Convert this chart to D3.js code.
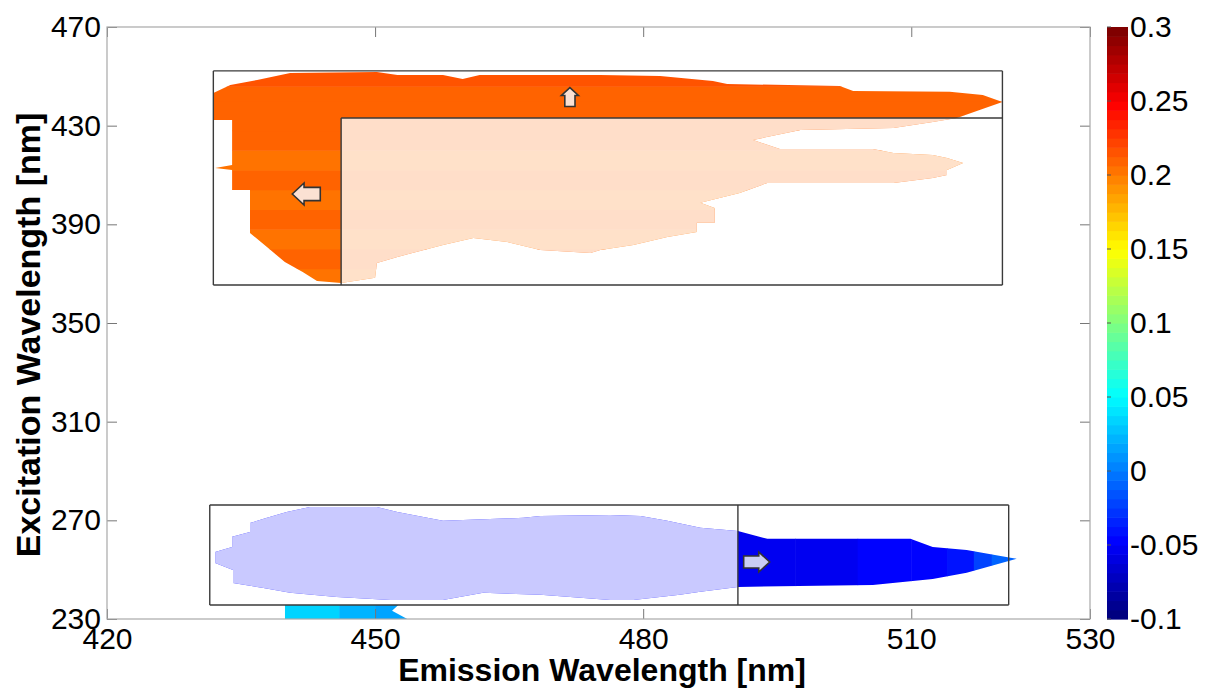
<!DOCTYPE html>
<html>
<head>
<meta charset="utf-8">
<script src="https://cdn.jsdelivr.net/npm/d3@7"></script>
<style>
  body { margin: 0; background: #fff; }
  text { font-family: "Liberation Sans", Arial, sans-serif; }
</style>
</head>
<body>
<div id="eem_chart"></div>
<script>
// axis ticks
const emTicks = [420, 450, 480, 510, 530];
const exTicks = [230, 270, 310, 350, 390, 430, 470];
const cbTicks = [-0.1, -0.05, 0, 0.05, 0.1, 0.15, 0.2, 0.25, 0.3];
const cbLabels = ["-0.1", "-0.05", "0", "0.05", "0.1", "0.15", "0.2", "0.25", "0.3"];

// outlines of the loading regions, [emission, excitation]
const topOutline = [
  [431.9,443.2],[433.8,446.5],[436.8,448.5],[440.5,451.4],[450.2,451.8],[452.5,450.5],[457.6,450.5],
  [459.8,448.9],[461.7,450.5],[475.2,450.5],[481.9,450.1],[487.8,448.1],[489.4,446.9],[502.0,446.1],
  [503.5,444.1],[514.3,443.7],[518.0,442.4],[520.2,439.6],[515.1,433.1],[512.4,431.5],[508.0,429.1],
  [497.6,428.2],[492.3,424.2],[495.3,420.5],[505.7,420.5],[508.0,418.9],[512.4,418.1],[514.0,416.9],
  [515.8,414.9],[514.0,412.0],[514.0,410.0],[512.4,408.8],[508.0,406.8],[493.9,406.8],[490.8,402.7],
  [486.4,398.7],[488.0,396.6],[488.0,390.6],[486.0,390.6],[486.0,386.9],[482.7,384.9],[478.9,381.6],
  [475.2,379.6],[474.1,378.4],[468.5,379.6],[464.8,382.8],[461.0,384.5],[457.6,381.6],[452.5,376.8],
  [450.2,374.3],[450.0,368.3],[446.2,366.2],[443.5,367.0],[441.9,370.7],[439.9,374.7],[437.9,380.8],
  [436.0,386.5],[436.0,403.9],[434.0,403.9],[434.0,412.0],[432.1,412.8],[434.0,414.1],[434.0,432.3],
  [431.9,432.3]
];
const bottomOutline = [
  [432.1,257.2],[434.0,259.2],[434.0,263.3],[436.0,265.3],[436.0,268.9],[437.9,271.0],[440.1,273.4],
  [442.7,275.4],[450.2,275.4],[452.5,273.4],[455.4,271.4],[457.6,269.8],[466.6,271.0],[468.5,271.8],
  [476.3,272.2],[479.7,271.8],[482.7,269.8],[486.4,267.0],[490.6,265.7],[493.9,262.5],[509.9,262.5],
  [512.4,259.2],[516.2,258.0],[521.1,254.8],[521.8,254.4],[516.2,248.7],[512.4,246.2],[505.7,243.8],
  [490.6,243.0],[486.4,241.0],[484.1,239.8],[478.9,237.7],[476.3,237.7],[468.5,239.8],[462.1,240.6],
  [457.6,237.7],[451.7,237.7],[445.7,238.9],[440.5,240.6],[437.5,242.6],[434.1,244.6],[434.1,249.9],
  [432.1,252.7]
];
const cyanOutline = [[439.9,235.7],[452.6,235.7],[451.9,233.3],[453.6,230],[439.9,230]];

// loading values inside each region (bands along excitation or emission)
const topBandEdges = [364, 372, 380, 388, 396, 404, 412, 420, 428, 434, 440, 446, 454];
const topBandValues = [0.205, 0.207, 0.204, 0.207, 0.205, 0.208, 0.205, 0.207, 0.209, 0.207, 0.212, 0.215];
const bottomBandEdges = [431, 490.6, 497, 504, 510, 514, 517, 519, 522];
const bottomBandValues = [-0.05, -0.054, -0.052, -0.05, -0.046, -0.038, -0.025, -0.01];
const cyanBandEdges = [439.9, 446, 450, 454];
const cyanBandValues = [0.032, 0.024, 0.015];

// faded (non-selected) parts: [em0, em1, ex0, ex1]
const topFade = [446.2, 520.2, 365.4, 433.1];
const bottomFade = [431.5, 490.6, 235.7, 276.2];

// selection boxes as line segments [em0, ex0, em1, ex1]
const boxSegments = [
  [431.9, 365.4, 520.2, 365.4], [431.9, 452.2, 520.2, 452.2],
  [431.9, 365.4, 431.9, 452.2], [520.2, 365.4, 520.2, 452.2],
  [446.2, 433.1, 520.2, 433.1], [446.2, 365.4, 446.2, 433.1],
  [431.5, 235.7, 520.9, 235.7], [431.5, 276.2, 520.9, 276.2],
  [431.5, 235.7, 431.5, 276.2], [520.9, 235.7, 520.9, 276.2],
  [490.6, 235.7, 490.6, 276.2]
];

// shift arrows
const arrowEm = [471.8, 442.3, 492.7];
const arrowEx = [441.6, 402.3, 253.1];
const arrowDir = ["up", "left", "right"];

// dimensions
const margin = {top: 27, right: 126, bottom: 74, left: 107},
      width = 1216 - margin.left - margin.right,
      height = 693 - margin.top - margin.bottom;

const svg = d3.select("#eem_chart")
  .append("svg")
    .attr("width", 1216)
    .attr("height", 693);

const g = svg.append("g")
    .attr("transform", `translate(${margin.left},${margin.top})`);

const x = d3.scaleLinear().domain([420, 530]).range([0, width]);
const y = d3.scaleLinear().domain([230, 470]).range([height, 0]);

// MATLAB-ish jet colormap, 64 levels
function jet(t) {
  const c = v => Math.max(0, Math.min(1, v));
  return d3.rgb(255 * c(1.5 - Math.abs(4 * t - 3)),
                255 * c(1.5 - Math.abs(4 * t - 2)),
                255 * c(1.5 - Math.abs(4 * t - 1)));
}
const cmin = -0.1, cmax = 0.3;
function color(v) {
  const t = Math.max(0, Math.min(1, (v - cmin) / (cmax - cmin)));
  return jet(Math.min(63, Math.floor(t * 64)) / 63).formatHex();
}

const regions = [
  {id: "top", outline: topOutline, dir: "ex", edges: topBandEdges, vals: topBandValues, fade: topFade},
  {id: "bottom", outline: bottomOutline, dir: "em", edges: bottomBandEdges, vals: bottomBandValues, fade: bottomFade},
  {id: "cyan", outline: cyanOutline, dir: "em", edges: cyanBandEdges, vals: cyanBandValues, fade: null}
];

const line = d3.line().x(d => x(d[0])).y(d => y(d[1]));
const defs = svg.append("defs");

regions.forEach(r => {
  defs.append("clipPath").attr("id", "clip-" + r.id)
    .append("path").attr("d", line(r.outline) + "Z");

  const rg = g.append("g").attr("clip-path", `url(#clip-${r.id})`);
  const bands = d3.range(r.vals.length).map(i => ({a: r.edges[i], b: r.edges[i + 1], v: r.vals[i]}));

  rg.selectAll("rect.band")
    .data(bands)
    .join("rect")
      .attr("class", "band")
      .attr("x", d => r.dir === "ex" ? 0 : x(d.a))
      .attr("width", d => r.dir === "ex" ? width : x(d.b) - x(d.a) + 0.5)
      .attr("y", d => r.dir === "ex" ? y(d.b) : 0)
      .attr("height", d => r.dir === "ex" ? y(d.a) - y(d.b) + 0.5 : height)
      .attr("fill", d => color(d.v));

  if (r.fade) {
    rg.append("rect")
      .attr("x", x(r.fade[0]))
      .attr("width", x(r.fade[1]) - x(r.fade[0]))
      .attr("y", y(r.fade[3]))
      .attr("height", y(r.fade[2]) - y(r.fade[3]))
      .attr("fill", "#fff")
      .attr("fill-opacity", 0.79);
  }
});

// selection boxes
g.selectAll("line.box")
  .data(boxSegments)
  .join("line")
    .attr("class", "box")
    .attr("x1", d => x(d[0])).attr("y1", d => y(d[1]))
    .attr("x2", d => x(d[2])).attr("y2", d => y(d[3]))
    .attr("stroke", "#3a3a3a")
    .attr("stroke-width", 1.4);

// arrows
const arrowStyle = {
  up:    {len: 19, wid: 17, rot: -90, fill: "#fbe1d3"},
  left:  {len: 28, wid: 22, rot: 180, fill: "#fbe1d3"},
  right: {len: 26, wid: 20, rot: 0,   fill: "#c9cdf4"}
};
function arrowPoints(len, wid) {
  const hl = len * 0.42, sh = wid * 0.3;
  return [[-len / 2, -sh], [len / 2 - hl, -sh], [len / 2 - hl, -wid / 2], [len / 2, 0],
          [len / 2 - hl, wid / 2], [len / 2 - hl, sh], [-len / 2, sh]];
}
g.selectAll("path.arrow")
  .data(d3.range(arrowDir.length))
  .join("path")
    .attr("class", "arrow")
    .attr("transform", i => `translate(${x(arrowEm[i])},${y(arrowEx[i])}) rotate(${arrowStyle[arrowDir[i]].rot})`)
    .attr("d", i => { const s = arrowStyle[arrowDir[i]]; return d3.line()(arrowPoints(s.len, s.wid)) + "Z"; })
    .attr("fill", i => arrowStyle[arrowDir[i]].fill)
    .attr("stroke", "#333")
    .attr("stroke-width", 1.6)
    .attr("stroke-linejoin", "miter");

// axes (ticks inward, MATLAB style)
function styleAxis(sel) {
  sel.select(".domain").remove();
  sel.selectAll(".tick line").attr("stroke", "#777");
  sel.selectAll(".tick text").attr("fill", "#000").attr("font-size", 30)
    .attr("font-family", "Liberation Sans, Arial, sans-serif");
}
g.append("g")
  .attr("transform", `translate(0,${height})`)
  .call(d3.axisBottom(x).tickValues(emTicks).tickFormat(d3.format("d")).tickSizeInner(-10).tickSizeOuter(0).tickPadding(9))
  .call(styleAxis);
g.append("g")
  .call(d3.axisLeft(y).tickValues(exTicks).tickFormat(d3.format("d")).tickSizeInner(-10).tickSizeOuter(0).tickPadding(6))
  .call(styleAxis);
g.append("g")
  .call(d3.axisTop(x).tickValues(emTicks).tickFormat("").tickSizeInner(-10).tickSizeOuter(0))
  .call(styleAxis);
g.append("g")
  .attr("transform", `translate(${width},0)`)
  .call(d3.axisRight(y).tickValues(exTicks).tickFormat("").tickSizeInner(-10).tickSizeOuter(0))
  .call(styleAxis);

// frame
g.append("rect")
  .attr("width", width).attr("height", height)
  .attr("fill", "none").attr("stroke", "#a8a8a8").attr("stroke-width", 1.2);

// axis titles
svg.append("text")
  .attr("x", 602).attr("y", 681)
  .attr("text-anchor", "middle")
  .attr("font-size", 32).attr("font-weight", "bold")
  .text("Emission Wavelength [nm]");
svg.append("text")
  .attr("transform", "translate(40,335) rotate(-90)")
  .attr("text-anchor", "middle")
  .attr("font-size", 34).attr("font-weight", "bold")
  .text("Excitation Wavelength [nm]");

// colorbar
const cb = {x: 1107, w: 21};
const cy = d3.scaleLinear().domain([cmin, cmax]).range([margin.top + height, margin.top]);
const cbSteps = d3.range(64);
svg.append("g").selectAll("rect")
  .data(cbSteps)
  .join("rect")
    .attr("x", cb.x)
    .attr("width", cb.w)
    .attr("y", i => cy(cmin + (i + 1) * (cmax - cmin) / 64))
    .attr("height", i => cy(cmin + i * (cmax - cmin) / 64) - cy(cmin + (i + 1) * (cmax - cmin) / 64) + 0.6)
    .attr("fill", i => jet(i / 63).formatHex());

const cbAxis = svg.append("g")
  .attr("transform", `translate(${cb.x + cb.w},0)`)
  .call(d3.axisRight(cy).tickValues(cbTicks).tickFormat((d, i) => cbLabels[i]).tickSizeInner(0).tickSizeOuter(0).tickPadding(2));
cbAxis.select(".domain").remove();
cbAxis.selectAll(".tick text").attr("fill", "#000").attr("font-size", 30)
  .attr("font-family", "Liberation Sans, Arial, sans-serif");
svg.append("g").selectAll("line")
  .data(cbTicks)
  .join("line")
    .attr("x1", cb.x).attr("x2", cb.x + 4)
    .attr("y1", d => cy(d)).attr("y2", d => cy(d))
    .attr("stroke", "#555");
</script>
</body>
</html>
